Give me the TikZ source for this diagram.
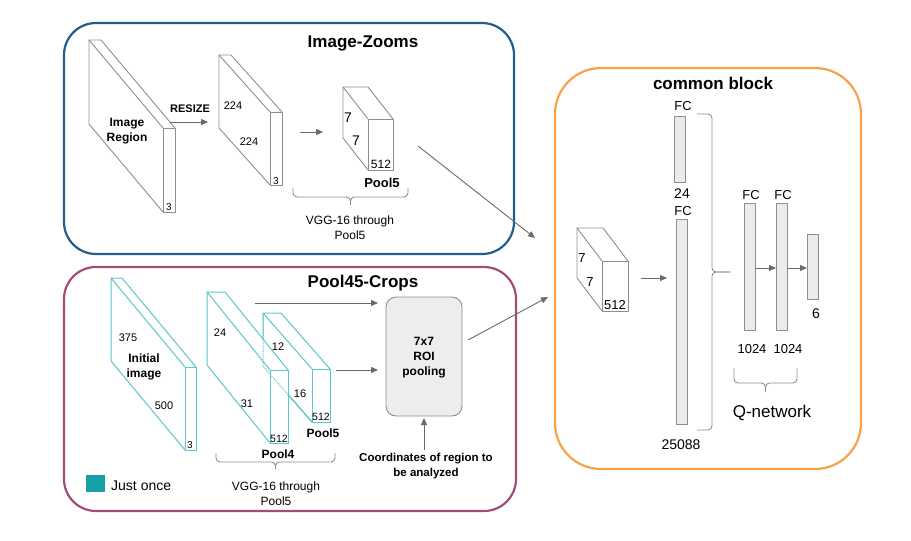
\documentclass[tikz,border=0pt]{standalone}
\usepackage{fontspec}
\setmainfont{Liberation Sans}
\usetikzlibrary{arrows.meta}
\definecolor{zoomblue}{HTML}{1F5E8E}
\definecolor{cropred}{HTML}{A34C78}
\definecolor{commonorange}{HTML}{F7A24B}
\definecolor{slabgray}{HTML}{8E8E8E}
\definecolor{cyanline}{HTML}{5CC7CB}
\definecolor{legendteal}{HTML}{17A0A5}
\definecolor{arrowgray}{HTML}{6A6A6A}
\definecolor{barfill}{HTML}{EBEBEB}
\definecolor{roifill}{HTML}{EDEDED}
% front rect x, y, w, h, depth dx, dy, style
\newcommand\slabshape[7]{%
  \fill[white] ({#1+#5},{#2+#6}) -- ({#1+#3+#5},{#2+#6}) -- ({#1+#3},{#2}) -- ({#1+#3},{#2+#4}) -- ({#1},{#2+#4}) -- ({#1+#5},{#2+#4+#6}) -- cycle;
  \draw[#7] (#1,#2) rectangle ({#1+#3},{#2+#4});
  \draw[#7] ({#1},{#2}) -- ({#1+#5},{#2+#6}) -- ({#1+#3+#5},{#2+#6}) -- ({#1+#3},{#2});
  \draw[#7] ({#1+#5},{#2+#6}) -- ({#1+#5},{#2+#4+#6}) -- ({#1},{#2+#4});
}
% x1, x2, y0 (ends), y1 (line), y2 (tip)
\newcommand\hbrace[5]{%
  \draw[bracestyle] (#1,#3) -- (#1,#4) -- ({(#1+#2)/2},#4) -- ({(#1+#2)/2},#5);
  \draw[bracestyle] (#2,#3) -- (#2,#4) -- ({(#1+#2)/2},#4) -- ({(#1+#2)/2},#5);
}
\begin{document}
\begin{tikzpicture}[x=1pt,y=-1pt,
  title/.style={inner sep=0pt,font=\bfseries\fontsize{17}{20}\selectfont},
  lab/.style={inner sep=0pt,font=\fontsize{#1}{15}\selectfont},
  blab/.style={inner sep=0pt,font=\bfseries\fontsize{#1}{15}\selectfont},
  gslab/.style={draw=slabgray,line width=0.9pt,line join=round},
  cslab/.style={draw=cyanline,line width=1pt,line join=round},
  bracestyle/.style={draw=slabgray,line width=0.9pt,rounded corners=4pt},
  arr/.style={draw=arrowgray,line width=0.9pt,-{Triangle[length=7pt,width=6pt]}},
  bar/.style={draw=slabgray,fill=barfill,line width=0.8pt},
  group/.style={line width=2.2pt}]
\useasboundingbox (0,0) rectangle (911,541);

% ---------- group boxes ----------
\draw[group,draw=zoomblue,rounded corners=32pt] (64,23) rectangle (514,254);
\draw[group,draw=cropred,rounded corners=32pt] (64,267) rectangle (516,511);
\draw[group,draw=commonorange,rounded corners=46pt] (555,68) rectangle (861,469);

\node[title] (tZoom) at (363,43) {Image-Zooms};
\node[title] (tCrop) at (363,283) {Pool45-Crops};
\node[title] (tCommon) at (713,83) {common block};

% ---------- Image-Zooms ----------
\slabshape{163}{128}{12}{84}{-74}{-88}{gslab}
\node[blab=12,align=center] (imgreg) at (127,131) {Image\\Region};
\node[lab=10] (z3a) at (169,207) {3};

\slabshape{270}{112}{12}{73}{-51}{-57}{gslab}
\node[lab=11] (z224a) at (233,106) {224};
\node[lab=11] (z224b) at (249,142) {224};
\node[lab=10] (z3b) at (276,181) {3};

\slabshape{368}{119}{25}{51}{-25}{-32}{gslab}
\node[lab=14] (z7a) at (348,118) {7};
\node[lab=14] (z7b) at (356,141) {7};
\node[lab=12] (z512) at (381,164) {512};
\node[blab=13] (zpool5) at (382,183) {Pool5};

\node[blab=11] (resize) at (190,109) {RESIZE};
\coordinate (r1) at (170,122); \coordinate (r2) at (208,122);
\draw[arr] (r1) -- (r2);
\coordinate (v1) at (300,132); \coordinate (v2) at (323,132);
\draw[arr] (v1) -- (v2);

\hbrace{293}{408}{188}{197}{205}
\node[lab=12,align=center] (zvgg) at (350,228) {VGG-16 through\\Pool5};

% ---------- Pool45-Crops ----------
\slabshape{185}{367}{11}{83}{-74}{-89}{cslab}
\node[lab=11] (c375) at (128,338) {375};
\node[blab=12,align=center] (initimg) at (144,367) {Initial\\image};
\node[lab=11] (c500) at (164,406) {500};
\node[lab=10] (c3) at (190,445) {3};

\slabshape{312}{369}{18}{53}{-49}{-56}{cslab}
\slabshape{270}{370}{18}{73}{-63}{-78}{cslab}
\draw[draw=cyanline,line width=1pt,densely dotted] (263,313) -- (263,366) -- (312,422);
\draw[cslab] (288,394.6) -- (312,422);

\node[lab=11] (c24) at (220,333) {24};
\node[lab=11] (c31) at (247,404) {31};
\node[lab=10.5] (c512a) at (279,439) {512};
\node[blab=12] (cpool4) at (278,454) {Pool4};
\node[lab=11] (c12) at (278,347) {12};
\node[lab=11] (c16) at (300,394) {16};
\node[lab=10.5] (c512b) at (321,417) {512};
\node[blab=12] (cpool5) at (323,433) {Pool5};

\hbrace{216}{335}{453}{462}{469}
\node[lab=12,align=center] (cvgg) at (276,494) {VGG-16 through\\Pool5};

\fill[legendteal] (86,475) rectangle (105,492);
\node[lab=14,anchor=west] (legend) at (111,486) {Just once};

\draw[draw=slabgray,fill=roifill,line width=0.9pt,rounded corners=10pt] (386,297) rectangle (462,416);
\node[blab=12,align=center] (roi) at (424,358) {7x7\\ROI\\pooling};
\node[blab=11.5,align=center] (coords) at (426,466) {Coordinates of region to\\be analyzed};

\coordinate (p1) at (255,303); \coordinate (p2) at (378,303);
\draw[arr] (p1) -- (p2);
\coordinate (p3) at (336,370); \coordinate (p4) at (378,370);
\draw[arr] (p3) -- (p4);
\coordinate (q1) at (424,450); \coordinate (q2) at (424,418);
\draw[arr] (q1) -- (q2);

% ---------- to common block ----------
\coordinate (s1) at (418,146); \coordinate (s2) at (535,238);
\draw[arr] (s1) -- (s2);
\coordinate (s3) at (468,340); \coordinate (s4) at (548,297);
\draw[arr] (s3) -- (s4);

% ---------- common block ----------
\slabshape{602}{261}{26}{50}{-25}{-33}{gslab}
\node[lab=13] (m7a) at (582,258) {7};
\node[lab=13] (m7b) at (590,282) {7};
\node[lab=13] (m512) at (615,305) {512};
\coordinate (k1) at (641,278); \coordinate (k2) at (667,278);
\draw[arr] (k1) -- (k2);

\draw[bar] (674,116) rectangle (685,182);
\draw[bar] (676,219) rectangle (687,424);
\draw[bar] (744,203) rectangle (755,330);
\draw[bar] (776,203) rectangle (787,330);
\draw[bar] (807,234) rectangle (818,299);

\node[lab=13] (fc1) at (683,106) {FC};
\node[lab=14] (n24) at (682,194) {24};
\node[lab=13] (fc2) at (683,211) {FC};
\node[lab=14] (n25088) at (681,445) {25088};
\node[lab=13] (fc3) at (751,195) {FC};
\node[lab=13] (fc4) at (783,195) {FC};
\node[lab=13] (n1024a) at (752,349) {1024};
\node[lab=13] (n1024b) at (788,349) {1024};
\node[lab=14] (n6) at (816,314) {6};

\coordinate (b1) at (755,268); \coordinate (b2) at (776,268);
\draw[arr] (b1) -- (b2);
\coordinate (b3) at (787,268); \coordinate (b4) at (807,268);
\draw[arr] (b3) -- (b4);

\draw[bracestyle] (697,114) -- (712,114) -- (712,272) -- (730,272);
\draw[bracestyle] (697,430) -- (712,430) -- (712,272) -- (730,272);

\hbrace{734}{797}{368}{383}{392}
\node[lab=17] (qnet) at (772,413) {Q-network};
\end{tikzpicture}
\end{document}
